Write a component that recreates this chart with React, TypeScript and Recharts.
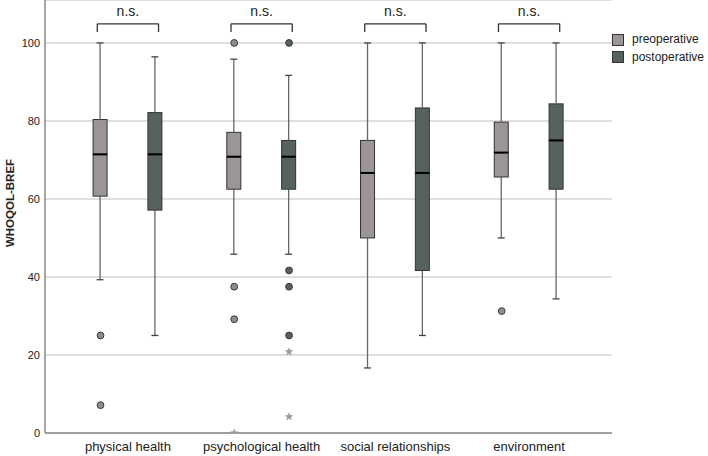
import React from 'react';
import {
  ComposedChart,
  Bar,
  Scatter,
  XAxis,
  YAxis,
  CartesianGrid,
  ReferenceLine,
} from 'recharts';

const categories = ['physical health', 'psychological health', 'social relationships', 'environment'];
const yTicks = [0, 20, 40, 60, 80, 100];

// min, q1, median, q3, max per category
const preStats = [
  [39.29, 60.71, 71.43, 80.36, 100],
  [45.83, 62.5, 70.83, 77.08, 95.83],
  [16.67, 50, 66.67, 75, 100],
  [50, 65.63, 71.88, 79.69, 100],
];
const postStats = [
  [25, 57.14, 71.43, 82.14, 96.43],
  [45.83, 62.5, 70.83, 75, 91.67],
  [25, 41.67, 66.67, 83.33, 100],
  [34.38, 62.5, 75, 84.38, 100],
];

// [category index, value]
const preOutliers = [[0, 25], [0, 7.14], [1, 100], [1, 37.5], [1, 29.17], [3, 31.25]];
const postOutliers = [[1, 100], [1, 41.67], [1, 37.5], [1, 25]];
const preExtremes = [[1, 0]];
const postExtremes = [[1, 20.83], [1, 4.17]];

const PRE_COLOR = '#9b9595';
const POST_COLOR = '#56625c';
const OFFSET = 0.205;
const FONT = '"Liberation Sans", Arial, sans-serif';

const xOf = (cat: number, group: string) => cat + 0.5 + (group === 'pre' ? -OFFSET : OFFSET);

const boxRows = [
  ...preStats.map((s, i) => ({ i, group: 'pre', s })),
  ...postStats.map((s, i) => ({ i, group: 'post', s })),
]
  .map(({ i, group, s }) => ({
    x: xOf(i, group),
    group,
    base: s[0],
    wLow: s[1] - s[0],
    bLow: s[2] - s[1],
    bHigh: s[3] - s[2],
    wHigh: s[4] - s[3],
  }))
  .sort((a, b) => a.x - b.x);

const toPoints = (list: number[][], group: string) =>
  list.map(([c, v]) => ({ x: xOf(c, group), y: v }));

const fillOf = (p: any) => ((p.payload?.group ?? p.group) === 'pre' ? PRE_COLOR : POST_COLOR);

const WhiskerLow = (p: any) => {
  const cx = p.x + p.width / 2;
  return (
    <g>
      <line x1={cx} x2={cx} y1={p.y} y2={p.y + p.height} stroke="#666" strokeWidth={1.3} />
      <line x1={cx - 3.5} x2={cx + 3.5} y1={p.y + p.height} y2={p.y + p.height} stroke="#444" strokeWidth={1.3} />
    </g>
  );
};

const WhiskerHigh = (p: any) => {
  const cx = p.x + p.width / 2;
  return (
    <g>
      <line x1={cx} x2={cx} y1={p.y} y2={p.y + p.height} stroke="#666" strokeWidth={1.3} />
      <line x1={cx - 3.5} x2={cx + 3.5} y1={p.y} y2={p.y} stroke="#444" strokeWidth={1.3} />
    </g>
  );
};

const BoxLow = (p: any) => (
  <rect x={p.x} y={p.y} width={p.width} height={p.height} fill={fillOf(p)} stroke="#333" strokeWidth={1} />
);

const BoxHigh = (p: any) => (
  <g>
    <rect x={p.x} y={p.y} width={p.width} height={p.height} fill={fillOf(p)} stroke="#333" strokeWidth={1} />
    <line x1={p.x} x2={p.x + p.width} y1={p.y + p.height} y2={p.y + p.height} stroke="#000" strokeWidth={2} />
  </g>
);

const Empty = () => <g />;

const dot = (fill: string) => (p: any) => (
  <circle cx={p.cx} cy={p.cy} r={3.4} fill={fill} stroke="#3a3a3a" strokeWidth={1} />
);

const star = (p: any) => {
  const pts: string[] = [];
  for (let k = 0; k < 10; k++) {
    const r = k % 2 === 0 ? 3.8 : 1.6;
    const a = -Math.PI / 2 + (k * Math.PI) / 5;
    pts.push(`${p.cx + r * Math.cos(a)},${p.cy + r * Math.sin(a)}`);
  }
  return <polygon points={pts.join(' ')} fill="#9a9a9a" stroke="#8a8a8a" strokeWidth={0.5} />;
};

const YLabel = () => (
  <text
    x={10}
    y={203}
    transform="rotate(-90 10 203)"
    textAnchor="middle"
    dominantBaseline="central"
    fontFamily={FONT}
    fontWeight="bold"
    fontSize={11.5}
    fill="#222"
  >
    WHOQOL-BREF
  </text>
);

export default function App() {
  return (
    <div style={{ position: 'absolute', left: 0, top: 0, width: 708, height: 456, background: '#fff' }}>
      <ComposedChart
        width={708}
        height={456}
        data={boxRows}
        margin={{ top: 0, right: 96, bottom: 0, left: 0 }}
      >
        <CartesianGrid horizontal vertical={false} stroke="#d4d4d4" strokeWidth={1.5} />
        <XAxis
          dataKey="x"
          type="number"
          domain={[-0.12, 4.12]}
          ticks={[0.5, 1.5, 2.5, 3.5]}
          tickFormatter={(v: number) => categories[Math.floor(v)]}
          allowDataOverflow
          tickLine={false}
          height={23}
          tickSize={4}
          tickMargin={5}
          axisLine={{ stroke: '#8a8a8a', strokeWidth: 1.5 }}
          tick={{ fontSize: 13, fill: '#222', fontFamily: FONT }}
        />
        <YAxis
          type="number"
          domain={[0, 111]}
          ticks={yTicks}
          allowDataOverflow
          width={45}
          tickLine={false}
          tickSize={3}
          tickMargin={2}
          axisLine={{ stroke: '#8a8a8a', strokeWidth: 1.5 }}
          tick={{ fontSize: 11, fill: '#222', fontFamily: FONT }}
          label={<YLabel />}
        />
        <Bar dataKey="base" stackId="box" barSize={14} shape={<Empty />} isAnimationActive={false} />
        <Bar dataKey="wLow" stackId="box" barSize={14} shape={WhiskerLow} isAnimationActive={false} />
        <Bar dataKey="bLow" stackId="box" barSize={14} shape={BoxLow} isAnimationActive={false} />
        <Bar dataKey="bHigh" stackId="box" barSize={14} shape={BoxHigh} isAnimationActive={false} />
        <Bar dataKey="wHigh" stackId="box" barSize={14} shape={WhiskerHigh} isAnimationActive={false} />
        <Scatter data={toPoints(preOutliers, 'pre')} dataKey="y" shape={dot('#8e8e8e')} isAnimationActive={false} />
        <Scatter data={toPoints(postOutliers, 'post')} dataKey="y" shape={dot(POST_COLOR)} isAnimationActive={false} />
        <Scatter
          data={[...toPoints(preExtremes, 'pre'), ...toPoints(postExtremes, 'post')]}
          dataKey="y"
          shape={star}
          isAnimationActive={false}
        />
        {categories.map((c, i) => {
          const l = i + 0.5 - 0.229;
          const r = i + 0.5 + 0.229;
          return (
            <React.Fragment key={c}>
              <ReferenceLine
                segment={[{ x: l, y: 104.9 }, { x: r, y: 104.9 }]}
                stroke="#333"
                strokeWidth={1.3}
                label={{ value: 'n.s.', position: 'top', offset: 8, fontSize: 14, fill: '#222', fontFamily: FONT }}
              />
              <ReferenceLine segment={[{ x: l, y: 104.9 }, { x: l, y: 102.8 }]} stroke="#333" strokeWidth={1.3} />
              <ReferenceLine segment={[{ x: r, y: 104.9 }, { x: r, y: 102.8 }]} stroke="#333" strokeWidth={1.3} />
            </React.Fragment>
          );
        })}
      </ComposedChart>
      <div
        style={{
          position: 'absolute',
          left: 612,
          top: 31,
          fontFamily: FONT,
          fontSize: 12,
          color: '#222',
          lineHeight: '17.5px',
        }}
      >
        {[
          { name: 'preoperative', color: PRE_COLOR },
          { name: 'postoperative', color: POST_COLOR },
        ].map((it) => (
          <div key={it.name} style={{ display: 'flex', alignItems: 'center' }}>
            <span
              style={{
                display: 'inline-block',
                width: 10,
                height: 10,
                background: it.color,
                border: '1px solid #333',
                marginRight: 8,
              }}
            />
            {it.name}
          </div>
        ))}
      </div>
    </div>
  );
}
